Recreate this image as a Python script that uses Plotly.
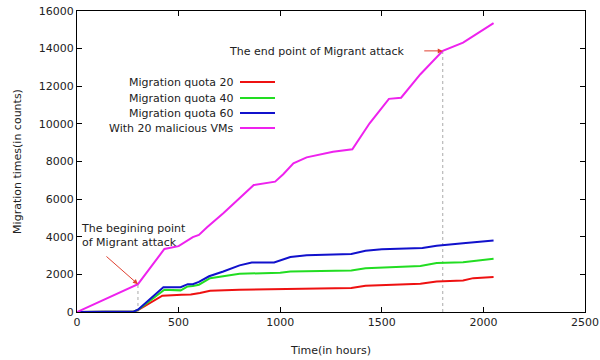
import plotly.graph_objects as go

# Migration counts over time
quota20_x = [0, 280, 300, 420, 515, 560, 605, 655, 800, 1050, 1350, 1420, 1690, 1770, 1900, 1950, 2050]
quota20_y = [0, 30, 100, 870, 920, 930, 1010, 1130, 1180, 1230, 1270, 1390, 1500, 1620, 1680, 1800, 1860]

quota40_x = [0, 280, 300, 430, 510, 545, 570, 600, 655, 800, 1000, 1050, 1350, 1420, 1690, 1770, 1900, 2050]
quota40_y = [0, 30, 110, 1180, 1150, 1360, 1380, 1450, 1800, 2030, 2090, 2150, 2210, 2330, 2450, 2600, 2650, 2830]

quota60_x = [0, 280, 300, 425, 510, 545, 570, 600, 650, 720, 800, 860, 970, 1010, 1050, 1130, 1350, 1420, 1500, 1700, 1770, 1900, 2050]
quota60_y = [0, 30, 120, 1320, 1320, 1480, 1480, 1600, 1900, 2150, 2480, 2630, 2630, 2770, 2920, 3020, 3080, 3250, 3340, 3400, 3520, 3650, 3800]

malicious_x = [0, 300, 430, 500, 570, 600, 640, 720, 870, 975, 1015, 1065, 1130, 1200, 1260, 1355, 1440, 1535, 1595, 1690, 1800, 1900, 2050]
malicious_y = [0, 1480, 3350, 3500, 3980, 4100, 4500, 5250, 6750, 6930, 7320, 7900, 8220, 8400, 8520, 8650, 10030, 11330, 11390, 12640, 13880, 14320, 15360]

series_names = ["Migration quota 20", "Migration quota 40", "Migration quota 60", "With 20 malicious VMs"]
series_colors = ["#ee1111", "#22dd22", "#1111cc", "#ee22ee"]

attack_start = (300, 1480)
attack_end = (1800, 13880)

x_ticks = [0, 500, 1000, 1500, 2000, 2500]
y_ticks = [0, 2000, 4000, 6000, 8000, 10000, 12000, 14000, 16000]

FONT = "DejaVu Sans"
TEXT = "#222222"
L, R, T, B, W, H = 77, 15, 11, 48, 600, 360
PW, PH = W - L - R, H - T - B

fig = go.Figure()

# dotted markers for the attack window
for px, py in (attack_start, attack_end):
    fig.add_trace(go.Scatter(x=[px, px], y=[0, py], mode="lines",
                             line=dict(color="#aaaaaa", width=1, dash="dot"),
                             showlegend=False, hoverinfo="skip"))

data = [(quota20_x, quota20_y), (quota40_x, quota40_y), (quota60_x, quota60_y), (malicious_x, malicious_y)]
for (xs, ys), name, color in zip(data, series_names, series_colors):
    fig.add_trace(go.Scatter(x=xs, y=ys, mode="lines", name=name,
                             line=dict(color=color, width=2), showlegend=False))

# key drawn on the left, with text right-aligned before the line sample
legend_rows = [82, 98, 113, 128]
for name, color, row in zip(series_names, series_colors, legend_rows):
    yp = (H - row - B) / PH
    fig.add_annotation(xref="paper", yref="paper", x=(236 - L) / PW, y=yp,
                       text=name, showarrow=False, xanchor="right", yanchor="middle",
                       font=dict(family=FONT, size=11, color=TEXT))
    fig.add_shape(type="line", xref="paper", yref="paper",
                  x0=(240 - L) / PW, x1=(275 - L) / PW, y0=yp, y1=yp,
                  line=dict(color=color, width=2))

# attack annotations
fig.add_annotation(x=attack_start[0], y=attack_start[1], ax=-33, ay=-29, text="",
                   showarrow=True, arrowhead=2, arrowsize=1, arrowwidth=1, arrowcolor="#e04030")
fig.add_annotation(x=10, y=4080, text="The begining point<br>of Migrant attack",
                   showarrow=False, xanchor="left", yanchor="middle", align="left",
                   font=dict(family=FONT, size=11, color=TEXT))
fig.add_annotation(x=attack_end[0], y=attack_end[1], ax=-20, ay=0, text="",
                   showarrow=True, arrowhead=2, arrowsize=1, arrowwidth=1, arrowcolor="#e04030")
fig.add_annotation(x=1624, y=13870, text="The end point of Migrant attack",
                   showarrow=False, xanchor="right", yanchor="middle",
                   font=dict(family=FONT, size=11, color=TEXT))

axis_common = dict(showline=True, linecolor="black", linewidth=1, mirror="allticks",
                   ticks="inside", ticklen=5, tickcolor="black", showgrid=False, zeroline=False,
                   automargin=False, tickformat="d",
                   tickfont=dict(family=FONT, size=11, color=TEXT))
fig.update_xaxes(range=[0, 2500], tickvals=x_ticks, title=dict(text="Time(in hours)", standoff=18,
                 font=dict(family=FONT, size=11, color=TEXT)), **axis_common)
fig.update_yaxes(range=[0, 16000], tickvals=y_ticks, title=dict(text="Migration times(in counts)", standoff=14,
                 font=dict(family=FONT, size=11, color=TEXT)), **axis_common)

fig.update_layout(width=W, height=H, margin=dict(l=L, r=R, t=T, b=B),
                  plot_bgcolor="white", paper_bgcolor="white", showlegend=False)

fig.write_html("out.html")
